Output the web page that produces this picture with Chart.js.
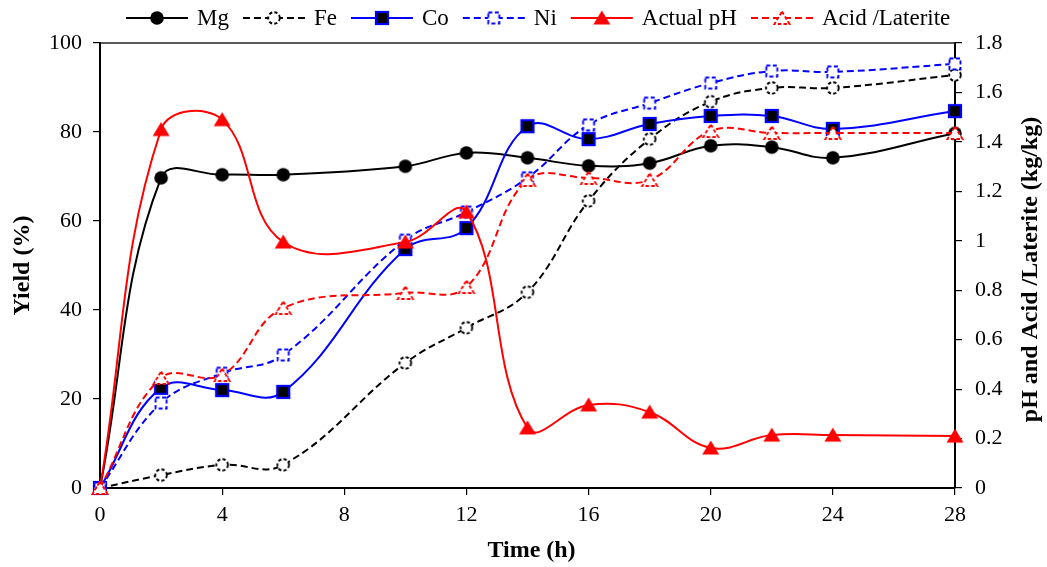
<!DOCTYPE html>
<html>
<head>
<meta charset="utf-8">
<script src="https://cdn.jsdelivr.net/npm/chart.js@4.4.1/dist/chart.umd.min.js"></script>
<style>
  html, body { margin: 0; padding: 0; background: #fff; }
  #wrap { width: 1047px; height: 567px; }
</style>
</head>
<body>
<div id="wrap"><canvas id="c" width="1047" height="567"></canvas></div>
<script>
// Leaching time (h)
const times = [0, 2, 4, 6, 10, 12, 14, 16, 18, 20, 22, 24, 28];

// Metal yields (%)
const mg = [0, 69.7, 70.4, 70.4, 72.3, 75.3, 74.2, 72.4, 73.0, 76.9, 76.6, 74.2, 79.7];
const fe = [0, 2.9, 5.2, 5.2, 28.1, 36.0, 44.0, 64.5, 78.4, 86.8, 89.9, 89.9, 92.8];
const co = [0, 22.5, 22.0, 21.6, 53.7, 58.4, 81.3, 78.4, 81.8, 83.6, 83.6, 80.7, 84.7];
const ni = [0, 19.1, 25.8, 29.9, 55.7, 62.0, 69.7, 81.6, 86.5, 91.0, 93.7, 93.5, 95.3];

// pH and acid consumption (kg/kg), right axis
const actualPH = [0, 1.45, 1.49, 0.995, 0.995, 1.117, 0.243, 0.336, 0.307, 0.162, 0.214, 0.214, 0.210];
const acidLaterite = [0, 0.445, 0.457, 0.728, 0.789, 0.813, 1.246, 1.254, 1.246, 1.444, 1.436, 1.436, 1.436];

// Axis tick settings
const yieldTicks = { min: 0, max: 100, step: 20 };
const rightTicks = { min: 0, max: 1.8, step: 0.2 };
const timeTicks = { min: 0, max: 28, step: 4 };

const FONT = '"Liberation Serif", "Times New Roman", serif';

function pts(vals) {
  return vals.map((v, i) => ({ x: times[i], y: v }));
}

// Small canvases used as point markers
function marker(kind, color) {
  const s = 20, m = s / 2;
  const c = document.createElement('canvas');
  c.width = s; c.height = s;
  const g = c.getContext('2d');
  g.lineJoin = 'miter';
  if (kind === 'dot') {
    g.beginPath(); g.arc(m, m, 6.8, 0, Math.PI * 2);
    g.fillStyle = color; g.fill();
  } else if (kind === 'ring') {
    g.beginPath(); g.arc(m, m, 5.8, 0, Math.PI * 2);
    g.fillStyle = '#fff'; g.fill();
    g.setLineDash([3.2, 2.2]); g.lineWidth = 1.9; g.strokeStyle = color; g.stroke();
  } else if (kind === 'box') {
    g.fillStyle = '#000'; g.fillRect(m - 6, m - 6, 12, 12);
    g.lineWidth = 2.2; g.strokeStyle = color; g.strokeRect(m - 6, m - 6, 12, 12);
  } else if (kind === 'hollowBox') {
    g.fillStyle = '#fff'; g.fillRect(m - 5.5, m - 5.5, 11, 11);
    g.setLineDash([4, 2.5]); g.lineWidth = 1.9; g.strokeStyle = color;
    g.strokeRect(m - 5.5, m - 5.5, 11, 11);
  } else if (kind === 'tri') {
    g.beginPath(); g.moveTo(m, m - 7.5); g.lineTo(m + 8.5, m + 6.5); g.lineTo(m - 8.5, m + 6.5); g.closePath();
    g.fillStyle = color; g.fill();
  } else if (kind === 'hollowTri') {
    g.beginPath(); g.moveTo(m, m - 6.5); g.lineTo(m + 7.5, m + 6); g.lineTo(m - 7.5, m + 6); g.closePath();
    g.fillStyle = '#fff'; g.fill();
    g.setLineDash([3.5, 2.2]); g.lineWidth = 1.9; g.strokeStyle = color; g.stroke();
  }
  return c;
}

function series(label, vals, axis, color, dashed, mk, order) {
  return {
    label: label,
    data: pts(vals),
    yAxisID: axis,
    borderColor: color,
    backgroundColor: color,
    borderWidth: 2,
    borderDash: dashed ? [7, 4] : [],
    pointStyle: mk,
    pointRadius: 7,
    pointHoverRadius: 7,
    tension: 0.4,
    fill: false,
    clip: false,
    order: order
  };
}

const datasets = [
  series('Mg', mg, 'y', '#000000', false, marker('dot', '#000'), 6),
  series('Fe', fe, 'y', '#000000', true, marker('ring', '#000'), 5),
  series('Co', co, 'y', '#0000ff', false, marker('box', '#0000ff'), 4),
  series('Ni', ni, 'y', '#0000ff', true, marker('hollowBox', '#0000ff'), 3),
  series('Actual pH', actualPH, 'y1', '#ff0000', false, marker('tri', '#ff0000'), 2),
  series('Acid /Laterite', acidLaterite, 'y1', '#ff0000', true, marker('hollowTri', '#ff0000'), 1)
];

// Frame, axis titles and the line-with-marker legend
const decor = {
  id: 'decor',
  beforeDatasetsDraw(chart) {
    const { ctx, chartArea: a } = chart;
    ctx.save();
    ctx.strokeStyle = '#222';
    ctx.lineWidth = 1.5;
    ctx.beginPath();
    ctx.moveTo(a.left, a.top); ctx.lineTo(a.right, a.top);
    ctx.stroke();
    ctx.restore();
  },
  afterDraw(chart) {
    const { ctx, chartArea: a } = chart;
    const midY = (a.top + a.bottom) / 2;
    ctx.save();
    ctx.fillStyle = '#000';
    ctx.font = 'bold 24px ' + FONT;
    ctx.textAlign = 'center';
    ctx.textBaseline = 'middle';
    ctx.fillText('Time (h)', (a.left + a.right) / 2 + 4, 551);

    ctx.save();
    ctx.translate(23, midY);
    ctx.rotate(-Math.PI / 2);
    ctx.fillText('Yield (%)', 0, 0);
    ctx.restore();

    ctx.save();
    ctx.translate(1031, midY + 4);
    ctx.rotate(-Math.PI / 2);
    ctx.fillText('pH and Acid /Laterite (kg/kg)', 0, 0);
    ctx.restore();

    // legend
    ctx.font = '23px ' + FONT;
    ctx.textAlign = 'left';
    const ly = 18, lineLen = 62;
    let x = 126;
    chart.data.datasets.forEach(ds => {
      ctx.save();
      ctx.strokeStyle = ds.borderColor;
      ctx.lineWidth = 2;
      ctx.setLineDash(ds.borderDash);
      ctx.beginPath(); ctx.moveTo(x, ly); ctx.lineTo(x + lineLen, ly); ctx.stroke();
      ctx.restore();
      const img = ds.pointStyle;
      ctx.drawImage(img, x + lineLen / 2 - img.width / 2, ly - img.height / 2);
      ctx.fillStyle = '#000';
      ctx.fillText(ds.label, x + lineLen + 9, ly + 1);
      x += lineLen + 9 + ctx.measureText(ds.label).width + 14;
    });
    ctx.restore();
  }
};

const axisCommon = {
  grid: { drawOnChartArea: false, drawTicks: true, tickLength: 7, color: '#000', lineWidth: 1.2 },
  border: { display: true, color: '#000', width: 2 }
};

new Chart(document.getElementById('c'), {
  type: 'line',
  data: { datasets: datasets },
  options: {
    responsive: false,
    animation: false,
    events: [],
    layout: { padding: { top: 43, left: 0, right: 0, bottom: 0 } },
    plugins: { legend: { display: false }, tooltip: { enabled: false }, title: { display: false } },
    scales: {
      x: {
        type: 'linear',
        position: 'bottom',
        min: timeTicks.min, max: timeTicks.max,
        ticks: { stepSize: timeTicks.step, color: '#000', font: { family: FONT, size: 22 }, padding: 7, maxRotation: 0 },
        ...axisCommon,
        afterFit(s) { s.height = 79; }
      },
      y: {
        position: 'left',
        min: yieldTicks.min, max: yieldTicks.max,
        ticks: { stepSize: yieldTicks.step, color: '#000', font: { family: FONT, size: 22 }, padding: 11 },
        ...axisCommon,
        afterFit(s) { s.width = 100; }
      },
      y1: {
        position: 'right',
        min: rightTicks.min, max: rightTicks.max,
        ticks: {
          stepSize: rightTicks.step, color: '#000', font: { family: FONT, size: 22 }, padding: 13,
          callback: v => String(Math.round(v * 10) / 10)
        },
        ...axisCommon,
        afterFit(s) { s.width = 92; }
      }
    }
  },
  plugins: [decor]
});
</script>
</body>
</html>
